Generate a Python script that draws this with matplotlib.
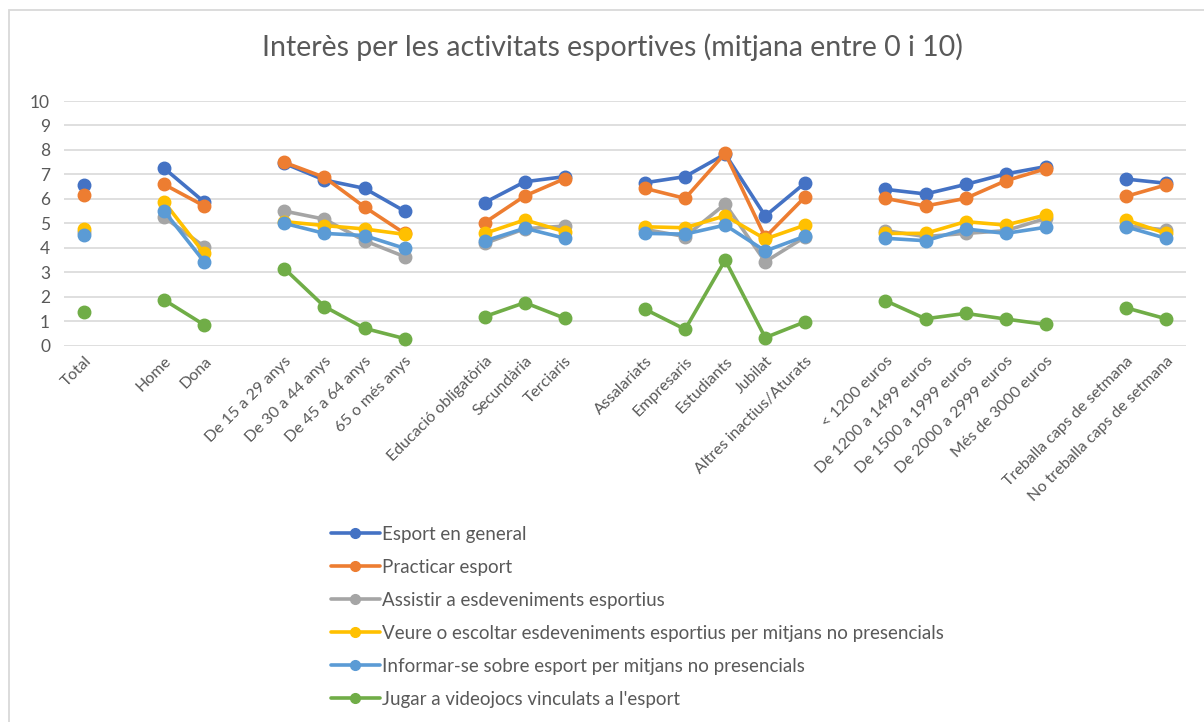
import numpy as np
import matplotlib
matplotlib.use("Agg")
import matplotlib.pyplot as plt
from matplotlib.patches import Rectangle

plt.rcParams['font.family'] = ['Lato', 'DejaVu Sans']

nan = np.nan
categories = ["Total", "", "Home", "Dona", "",
              "De 15 a 29 anys", "De 30 a 44 anys", "De 45 a 64 anys", "65 o més anys", "",
              "Educació obligatòria", "Secundària", "Terciaris", "",
              "Assalariats", "Empresaris", "Estudiants", "Jubilat", "Altres inactius/Aturats", "",
              "< 1200 euros", "De 1200 a 1499 euros", "De 1500 a 1999 euros", "De 2000 a 2999 euros",
              "Més de 3000 euros", "",
              "Treballa caps de setmana", "No treballa caps de setmana"]

esport_general = [6.55, nan, 7.25, 5.87, nan, 7.45, 6.77, 6.43, 5.50, nan, 5.85, 6.70, 6.91, nan,
                  6.66, 6.91, 7.83, 5.30, 6.66, nan, 6.39, 6.20, 6.59, 7.02, 7.32, nan, 6.81, 6.64]
practicar = [6.15, nan, 6.59, 5.71, nan, 7.49, 6.88, 5.67, 4.59, nan, 5.03, 6.12, 6.83, nan,
             6.43, 6.02, 7.86, 4.43, 6.09, nan, 6.02, 5.71, 6.02, 6.74, 7.23, nan, 6.10, 6.57]
assistir = [4.65, nan, 5.25, 4.05, nan, 5.50, 5.17, 4.29, 3.64, nan, 4.18, 4.78, 4.89, nan,
            4.75, 4.46, 5.79, 3.43, 4.45, nan, 4.70, 4.46, 4.59, 4.70, 5.20, nan, 4.90, 4.73]
veure = [4.78, nan, 5.87, 3.77, nan, 5.07, 4.91, 4.77, 4.55, nan, 4.59, 5.14, 4.66, nan,
         4.86, 4.82, 5.31, 4.36, 4.93, nan, 4.59, 4.59, 5.07, 4.93, 5.34, nan, 5.14, 4.59]
informar = [4.51, nan, 5.50, 3.43, nan, 5.00, 4.59, 4.50, 3.98, nan, 4.28, 4.80, 4.39, nan,
            4.59, 4.56, 4.93, 3.87, 4.48, nan, 4.39, 4.29, 4.77, 4.59, 4.84, nan, 4.86, 4.39]
videojocs = [1.39, nan, 1.87, 0.85, nan, 3.15, 1.60, 0.71, 0.29, nan, 1.19, 1.76, 1.12, nan,
             1.49, 0.67, 3.50, 0.33, 0.98, nan, 1.84, 1.10, 1.32, 1.09, 0.87, nan, 1.55, 1.10]

series = [
    ("Esport en general", esport_general, "#4472C4"),
    ("Practicar esport", practicar, "#ED7D31"),
    ("Assistir a esdeveniments esportius", assistir, "#A5A5A5"),
    ("Veure o escoltar esdeveniments esportius per mitjans no presencials", veure, "#FFC000"),
    ("Informar-se sobre esport per mitjans no presencials", informar, "#5B9BD5"),
    ("Jugar a videojocs vinculats a l'esport", videojocs, "#70AD47"),
]

W, H = 1204, 722
fig = plt.figure(figsize=(W / 100, H / 100), dpi=100)
fig.patches.append(Rectangle((9 / W, -0.1), 1.2, 1 - 10 / H + 0.1, transform=fig.transFigure,
                             fill=False, edgecolor="#D9D9D9", linewidth=1.3))

ax = fig.add_axes([64 / W, 1 - 345.7 / H, (1186 - 64) / W, (345.7 - 101) / H])
x = np.arange(len(categories))
handles = []
for name, vals, col in series:
    h, = ax.plot(x, vals, color=col, linewidth=2.6, marker="o", markersize=9,
                 label=name, solid_capstyle="round")
    handles.append(h)

ax.set_xlim(-0.5, len(categories) - 0.5)
ax.set_ylim(0, 10)
ax.set_yticks(range(0, 11))
ax.yaxis.grid(True, color="#D9D9D9", linewidth=1.2)
ax.set_axisbelow(True)
for s in ax.spines.values():
    s.set_visible(False)
ax.tick_params(axis="both", length=0, colors="#595959")
ax.tick_params(axis="y", labelsize=12.5, pad=10)
ax.set_xticks(x)
ax.set_xticklabels(categories, rotation=45, ha="right", rotation_mode="anchor",
                   fontsize=11.5, color="#595959")
ax.tick_params(axis="x", pad=6)

fig.text(612 / W, 1 - 47 / H, "Interès per les activitats esportives (mitjana entre 0 i 10)",
         ha="center", va="center", fontsize=20.5, color="#595959")

leg = fig.legend(handles=handles, loc="upper left", bbox_to_anchor=(314 / W, 1 - 509 / H),
                 frameon=False, fontsize=13.5, handlelength=2.6, handletextpad=0.15,
                 labelspacing=0.85, labelcolor="#595959")
for lh in leg.legend_handles:
    lh.set_markersize(7)

fig.savefig("out.png", dpi=100)
